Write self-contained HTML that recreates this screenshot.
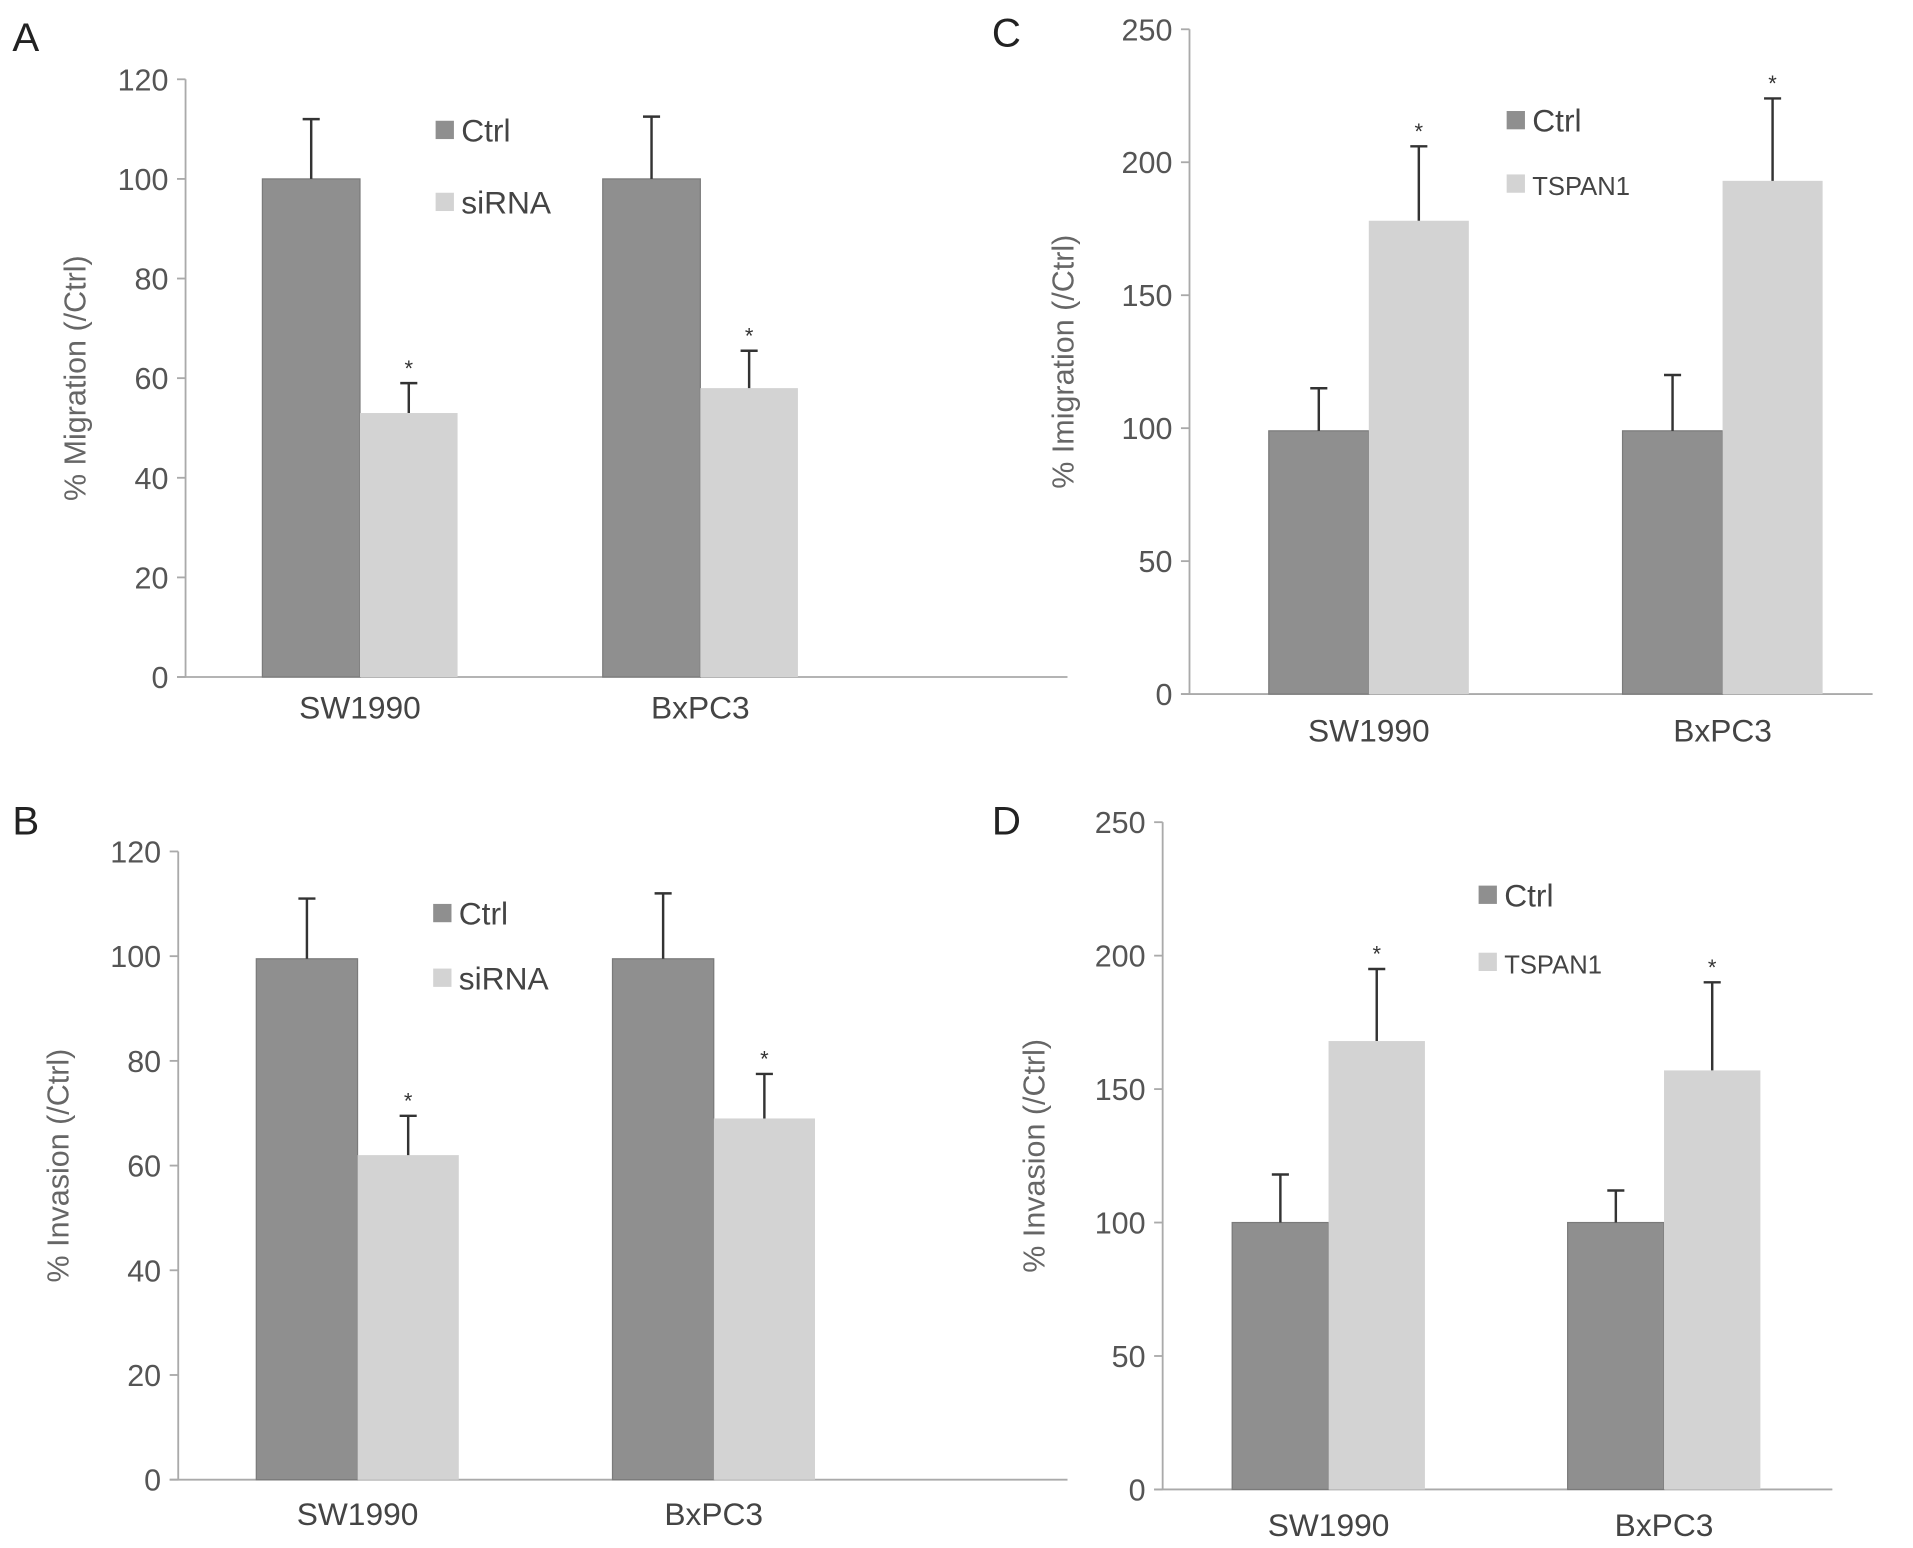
<!DOCTYPE html>
<html><head><meta charset="utf-8"><style>
html,body{margin:0;padding:0;background:#fff;}
svg{display:block;font-family:"Liberation Sans",Arial,sans-serif;}
</style></head><body>
<svg id="fig" width="1913" height="1548" viewBox="0 0 1568 1269" xmlns="http://www.w3.org/2000/svg"></svg>
<script>
const categories = ["SW1990", "BxPC3"];
const seriesA = ["Ctrl", "siRNA"];
const seriesC = ["Ctrl", "TSPAN1"];
const aCtrl = [100, 100], aCtrlErr = [112, 112.5];
const aSi = [53, 58], aSiErr = [59, 65.5];
const bCtrl = [99.5, 99.5], bCtrlErr = [111, 112];
const bSi = [62, 69], bSiErr = [69.5, 77.5];
const cCtrl = [99, 99], cCtrlErr = [115, 120];
const cTs = [178, 193], cTsErr = [206, 224];
const dCtrl = [100, 100], dCtrlErr = [118, 112];
const dTs = [168, 157], dTsErr = [195, 190];
const ticksA = [0, 20, 40, 60, 80, 100, 120];
const ticksC = [0, 50, 100, 150, 200, 250];

const NS = "http://www.w3.org/2000/svg";
const svg = document.getElementById("fig");
function mk(tag, attrs, parent, text) {
  const e = document.createElementNS(NS, tag);
  for (const k in attrs) e.setAttribute(k, attrs[k]);
  if (text !== undefined) e.textContent = text;
  (parent || svg).appendChild(e);
  return e;
}
const DARK = "#8f8f8f", LIGHT = "#d3d3d3";

function panel(cfg) {
  const g = mk("g", {});
  
  
  const max = cfg.ticks[cfg.ticks.length - 1];
  const y = v => cfg.y0 - (v / max) * (cfg.y0 - cfg.yTop);
  const lt = mk("text", {x: cfg.letterX, y: cfg.letterY, "font-size": 33, fill: "#222"}, g, cfg.letter);
  
  
  const ya = mk("line", {x1: cfg.ax, y1: cfg.yTop, x2: cfg.ax, y2: cfg.y0, stroke: "#aaa", "stroke-width": 1.5}, g);
  
  
  const xa = mk("line", {x1: cfg.ax - 7, y1: cfg.y0, x2: cfg.xEnd, y2: cfg.y0, stroke: "#aaa", "stroke-width": 1.5}, g);
  
  
  cfg.ticks.forEach(t => {
    mk("line", {x1: cfg.ax - 7, y1: y(t), x2: cfg.ax, y2: y(t), stroke: "#aaa", "stroke-width": 1.5}, g);
    const tl = mk("text", {x: cfg.ax - 14, y: y(t) + 9, "font-size": 25, fill: "#555", "text-anchor": "end"}, g, String(t));
    
    
  });
  const ty = (cfg.y0 + cfg.yTop) / 2;
  const tt = mk("text", {x: cfg.titleX, y: ty, "font-size": 25, fill: "#666", "text-anchor": "middle", transform: `rotate(-90 ${cfg.titleX} ${ty})`}, g, cfg.title);
  
  
  categories.forEach((c, i) => {
    const x0 = cfg.groupX[i], w = cfg.barW;
    const v1 = cfg.s1[i], v2 = cfg.s2[i];
    const b1 = mk("rect", {x: x0, y: y(v1), width: w, height: cfg.y0 - y(v1), fill: DARK, stroke: "#7a7a7a", "stroke-width": 1}, g);
    
    
    const b2 = mk("rect", {x: x0 + w, y: y(v2), width: w, height: cfg.y0 - y(v2), fill: LIGHT}, g);
    
    
    [[x0 + w / 2, v1, cfg.e1[i]], [x0 + w * 1.5, v2, cfg.e2[i]]].forEach(([cx, v, e], k) => {
      const eb = mk("path", {d: `M${cx} ${y(v)}V${y(e)}M${cx - 7} ${y(e)}H${cx + 7}`, stroke: "#333", "stroke-width": 2, fill: "none"}, g);
      
      
      if (k === 1) {
        const st = mk("text", {x: cx, y: y(e) - 6, "font-size": 18, fill: "#333", "text-anchor": "middle"}, g, "*");
        
        
      }
    });
    const cl = mk("text", {x: x0 + w, y: cfg.catY, "font-size": 26, fill: "#444", "text-anchor": "middle"}, g, c);
    
    
  });
  cfg.series.forEach((s, k) => {
    const ly = cfg.legY[k];
    const sw = mk("rect", {x: cfg.legX, y: ly - 8, width: 15, height: 15, fill: k ? LIGHT : DARK}, g);
    
    
    const lt2 = mk("text", {x: cfg.legX + 21, y: ly + 9, "font-size": cfg.legFont[k], fill: "#444"}, g, s);
    
    
  });
}

panel({name: "panel-a", letter: "A", letterX: 10, letterY: 42, ax: 152, yTop: 65, y0: 555, xEnd: 875, ticks: ticksA,
  title: "% Migration (/Ctrl)", titleX: 70, groupX: [215, 494], barW: 80, s1: aCtrl, e1: aCtrlErr, s2: aSi, e2: aSiErr,
  catY: 589, series: seriesA, legX: 357, legY: [107, 166], legFont: [26, 26]});
panel({name: "panel-b", letter: "B", letterX: 10, letterY: 684, ax: 146, yTop: 698, y0: 1213, xEnd: 875, ticks: ticksA,
  title: "% Invasion (/Ctrl)", titleX: 56, groupX: [210, 502], barW: 83, s1: bCtrl, e1: bCtrlErr, s2: bSi, e2: bSiErr,
  catY: 1250, series: seriesA, legX: 355, legY: [749, 802], legFont: [26, 26]});
panel({name: "panel-c", letter: "C", letterX: 813, letterY: 38, ax: 975, yTop: 24, y0: 569, xEnd: 1535, ticks: ticksC,
  title: "% Imigration (/Ctrl)", titleX: 880, groupX: [1040, 1330], barW: 82, s1: cCtrl, e1: cCtrlErr, s2: cTs, e2: cTsErr,
  catY: 608, series: seriesC, legX: 1235, legY: [99, 151], legFont: [26, 21]});
panel({name: "panel-d", letter: "D", letterX: 813, letterY: 684, ax: 953, yTop: 674, y0: 1221, xEnd: 1502, ticks: ticksC,
  title: "% Invasion (/Ctrl)", titleX: 856, groupX: [1010, 1285], barW: 79, s1: dCtrl, e1: dCtrlErr, s2: dTs, e2: dTsErr,
  catY: 1259, series: seriesC, legX: 1212, legY: [734, 789], legFont: [26, 21]});
</script>
</body></html>
